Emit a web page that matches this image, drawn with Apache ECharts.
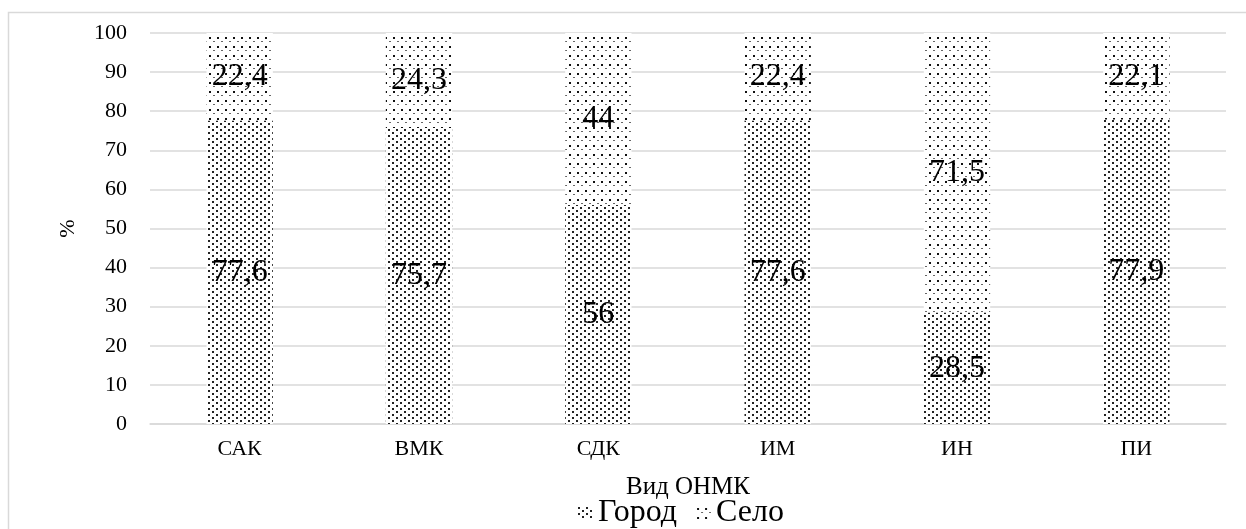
<!DOCTYPE html>
<html>
<head>
<meta charset="utf-8">
<script src="https://cdn.jsdelivr.net/npm/echarts@6/dist/echarts.min.js"></script>
<style>
html,body{margin:0;padding:0;background:#fff;}
#chart{width:1246px;height:529px;}
</style>
</head>
<body>
<div id="chart"></div>
<script>
// Categories and shares (%) of stroke cases by residence
const categories = ['САК', 'ВМК', 'СДК', 'ИМ', 'ИН', 'ПИ'];
const cityValues = [77.6, 75.7, 56, 77.6, 28.5, 77.9];
const villageValues = [22.4, 24.3, 44, 22.4, 71.5, 22.1];
const yTicks = [0, 10, 20, 30, 40, 50, 60, 70, 80, 90, 100];

// Dotted fill patterns
function makePattern(w, h, dots) {
  const c = document.createElement('canvas');
  c.width = w; c.height = h;
  const ctx = c.getContext('2d');
  ctx.fillStyle = '#fff';
  ctx.fillRect(0, 0, w, h);
  dots.forEach(d => {
    ctx.fillStyle = d[4] || '#000';
    ctx.fillRect(d[0], d[1], d[2], d[3]);
  });
  return c;
}
const densePattern = makePattern(8, 6, [[0, 0, 2, 2, '#222'], [4, 3, 2, 2, '#222']]);
const sparsePattern = makePattern(8, 9, [[1, 1, 2, 2, '#111'], [5, 5, 2, 1, '#666']]);

const fontFamily = '"Liberation Serif", "Times New Roman", serif';
const fmt = p => String(p.value).replace('.', ',');

const chart = echarts.init(document.getElementById('chart'));
chart.setOption({
  animation: false,
  textStyle: { fontFamily: fontFamily },
  graphic: [{
    type: 'rect',
    shape: { x: 8.5, y: 12.5, width: 1260, height: 540 },
    style: { fill: 'none', stroke: '#d9d9d9', lineWidth: 1.5 },
    silent: true
  }],
  grid: { left: 150, right: 20, top: 33, bottom: 105 },
  legend: {
    top: 497,
    left: 578,
    padding: 0,
    itemWidth: 15,
    itemHeight: 12,
    itemGap: 19,
    icon: 'rect',
    textStyle: { fontFamily: fontFamily, fontSize: 32, color: '#000' },
    data: ['Город', 'Село']
  },
  xAxis: {
    type: 'category',
    data: categories,
    name: 'Вид ОНМК',
    nameLocation: 'middle',
    nameGap: 51,
    nameTextStyle: { fontFamily: fontFamily, fontSize: 25, color: '#000' },
    axisLine: { lineStyle: { color: '#d9d9d9', width: 1.5 } },
    axisTick: { show: false },
    axisLabel: { fontFamily: fontFamily, fontSize: 22, color: '#000', margin: 14 }
  },
  yAxis: {
    type: 'value',
    min: yTicks[0],
    max: yTicks[yTicks.length - 1],
    interval: 10,
    name: '%',
    nameLocation: 'middle',
    nameGap: 71,
    nameRotate: 90,
    nameTextStyle: { fontFamily: fontFamily, fontSize: 22, color: '#000' },
    axisLine: { show: false },
    axisTick: { show: false },
    axisLabel: { fontFamily: fontFamily, fontSize: 22, color: '#000', margin: 23 },
    splitLine: { lineStyle: { color: '#d9d9d9', width: 1.5 } }
  },
  series: [
    {
      name: 'Город',
      type: 'bar',
      stack: 'total',
      barWidth: '37%',
      data: cityValues,
      itemStyle: { color: { image: densePattern, repeat: 'repeat' } },
      label: {
        show: true,
        position: 'inside',
        formatter: fmt,
        fontFamily: fontFamily,
        fontSize: 32,
        color: '#000'
      }
    },
    {
      name: 'Село',
      type: 'bar',
      stack: 'total',
      barWidth: '37%',
      data: villageValues,
      itemStyle: { color: { image: sparsePattern, repeat: 'repeat' } },
      label: {
        show: true,
        position: 'inside',
        formatter: fmt,
        fontFamily: fontFamily,
        fontSize: 32,
        color: '#000'
      }
    }
  ]
});
</script>
</body>
</html>
